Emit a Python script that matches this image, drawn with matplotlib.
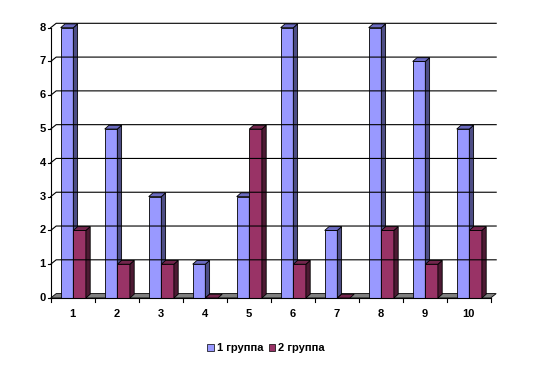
import matplotlib
matplotlib.use("Agg")
import matplotlib.pyplot as plt
from matplotlib.patches import Polygon, Rectangle
from matplotlib.transforms import offset_copy

plt.rcParams['font.family'] = ['Liberation Sans Narrow', 'Liberation Sans', 'DejaVu Sans']

# data
categories = ['1', '2', '3', '4', '5', '6', '7', '8', '9', '10']
group1 = [8, 5, 3, 1, 3, 8, 2, 8, 7, 5]
group2 = [2, 1, 1, 0, 5, 1, 0, 2, 1, 2]
series_names = ['1 группа', '2 группа']
y_ticks = [0, 1, 2, 3, 4, 5, 6, 7, 8]

# colours: front, side, top
blue = ('#9999FF', '#4D4D85', '#6B6BC0')
red = ('#993366', '#4D1A33', '#73264D')

W, H = 534, 368
fig = plt.figure(figsize=(W / 100, H / 100), dpi=100)
# axes box in pixels: x 50.7..490.7, y(from top) 298..27.7
ax = fig.add_axes([50.7 / W, 70 / H, 440 / W, 270.3 / H])
ax.set_xlim(0, 10)
ax.set_ylim(0, 8)
ax.axis('off')

pxx = 10 / 440      # data units per pixel, x
pxy = 8 / 270.3     # data units per pixel, y
wdx, wdy = 5.5 * pxx, 4.4 * pxy   # wall depth
bdx, bdy = 4.3 * pxx, 3.8 * pxy   # bar depth

lw = 0.8
n = len(categories)

# gridlines on the back wall + diagonal on the left wall
for v in y_ticks:
    if v == 0:
        continue
    ax.plot([0, wdx, n + wdx], [v, v + wdy, v + wdy], color='black', lw=lw,
            clip_on=False, solid_joinstyle='miter')

# floor
floor = Polygon([(0, 0), (n, 0), (n + wdx, wdy), (wdx, wdy)], closed=True,
                facecolor='#808080', edgecolor='black', lw=0.6, clip_on=False)
ax.add_patch(floor)

# y axis
ax.plot([0, 0], [0, 8], color='black', lw=lw, clip_on=False)
for v in y_ticks:
    ax.plot([-2.5 * pxx, 0], [v, v], color='black', lw=lw, clip_on=False)
    ax.text(0, v, str(v), transform=offset_copy(ax.transData, fig, x=-5, y=0, units='dots'),
            ha='right', va='center', fontsize=8, fontweight='bold')

# x axis
ax.plot([0, n], [0, 0], color='black', lw=lw, clip_on=False)
for i in range(n + 1):
    ax.plot([i, i], [0, -4 * pxy], color='black', lw=lw, clip_on=False)
for i, c in enumerate(categories):
    ax.text(i + 0.5, 0, c, transform=offset_copy(ax.transData, fig, x=0, y=-16, units='dots'),
            ha='center', va='center', fontsize=8, fontweight='bold')

bar_w = 12.6 / 44
bar_off = 10 / 44


def bar3d(x0, h, cols):
    front, side, top = cols
    x1 = x0 + bar_w
    if h > 0:
        ax.add_patch(Polygon([(x0, 0), (x1, 0), (x1, h), (x0, h)], closed=True,
                             facecolor=front, edgecolor='black', lw=0.6, clip_on=False))
        ax.add_patch(Polygon([(x1, 0), (x1 + bdx, bdy), (x1 + bdx, h + bdy), (x1, h)], closed=True,
                             facecolor=side, edgecolor='black', lw=0.6, clip_on=False))
    ax.add_patch(Polygon([(x0, h), (x1, h), (x1 + bdx, h + bdy), (x0 + bdx, h + bdy)], closed=True,
                         facecolor=top, edgecolor='black', lw=0.6, clip_on=False))


for i in range(n):
    bar3d(i + bar_off, group1[i], blue)
    bar3d(i + bar_off + bar_w, group2[i], red)

handles = [Rectangle((0, 0), 1, 1, facecolor=blue[0], edgecolor='black', lw=0.5),
           Rectangle((0, 0), 1, 1, facecolor=red[0], edgecolor='black', lw=0.5)]
fig.legend(handles, series_names, loc='center', bbox_to_anchor=(266 / W, 1 - 348 / H),
           ncol=2, frameon=False, handlelength=0.6, handleheight=0.6, handletextpad=0.25,
           columnspacing=0.5, prop={'size': 8, 'weight': 'bold'})

fig.savefig('out.png', dpi=100)
